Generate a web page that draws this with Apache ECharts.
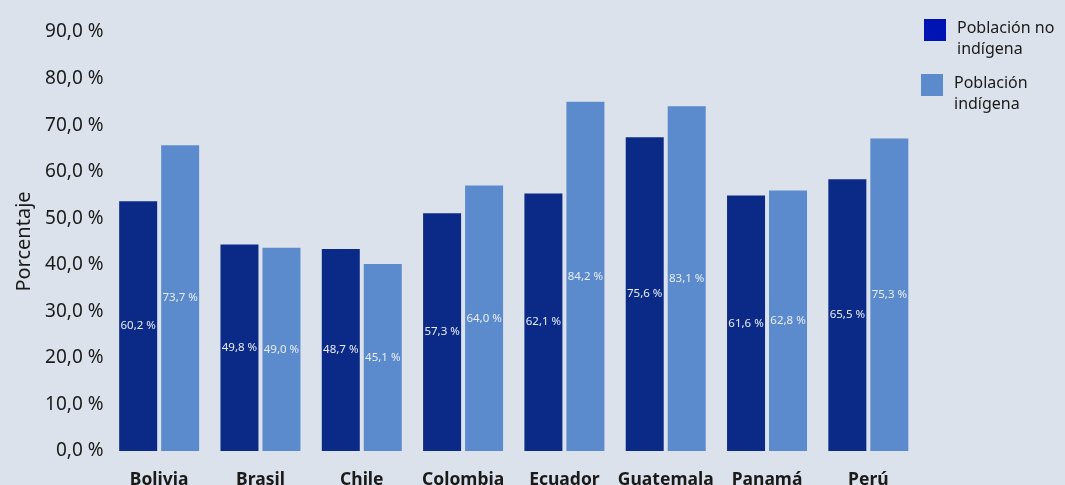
<!DOCTYPE html>
<html><head><meta charset="utf-8">
<script src="https://cdn.jsdelivr.net/npm/echarts@6/dist/echarts.min.js"></script>
<style>html,body{margin:0;padding:0;background:#dbe2eb;}#c{width:1065px;height:485px;}</style>
</head><body><div id="c"></div>
<script>
const categories = ['Bolivia','Brasil','Chile','Colombia','Ecuador','Guatemala','Panamá','Perú'];
const noIndigena = [60.2, 49.8, 48.7, 57.3, 62.1, 75.6, 61.6, 65.5];
const indigena = [73.7, 49.0, 45.1, 64.0, 84.2, 83.1, 62.8, 75.3];
const tickLabels = ['0,0 %','10,0 %','20,0 %','30,0 %','40,0 %','50,0 %','60,0 %','70,0 %','80,0 %','90,0 %'];
const seriesNames = ['Población no indígena','Población indígena'];

const axisMax = 101;
const step = axisMax / 9;
const fmt = v => v.toFixed(1).replace('.', ',') + ' %';
const font = 'Noto Sans';

const chart = echarts.init(document.getElementById('c'), null, {renderer:'canvas'});
const legendText = n => '{s| }\n' + n.replace(' indígena', '\nindígena').split('\n').map(l => '{t|' + l + '}').join('\n');
const sq = 'path://M0,0H22V22H0Z';
const legendBase = {orient:'vertical', padding: 0, itemWidth: 34, itemHeight: 22, formatter: legendText,
  textStyle: {fontFamily: font, fontSize: 16, color: '#1a1a1a', lineHeight: 21,
    rich: {s: {lineHeight: 17, fontSize: 16, fontFamily: font}, t: {lineHeight: 21, fontSize: 16, fontFamily: font, color: '#1a1a1a'}}}};
chart.setOption({
  backgroundColor: '#dbe2eb',
  textStyle: {fontFamily: font},
  grid: {left: 108.5, right: 146, top: 32, bottom: 34, containLabel: false, outerBoundsMode: 'none'},
  legend: [
    Object.assign({}, legendBase, {left: 924, top: 0.5,
     data: [{name: seriesNames[0], icon: sq, itemStyle: {color: '#0014b4'}}]}),
    Object.assign({}, legendBase, {left: 921, top: 55.5,
     data: [{name: seriesNames[1], icon: sq, itemStyle: {color: '#5b8bcc'}}]})
  ],
  xAxis: {
    type: 'category', data: categories,
    axisLine: {show: false}, axisTick: {show: false},
    axisLabel: {interval: 0, fontFamily: font, fontSize: 17.5, fontWeight: 'bold', color: '#1a1a1a', margin: 20}
  },
  yAxis: {
    type: 'value', min: 0, max: axisMax, interval: step,
    name: 'Porcentaje', nameLocation: 'middle', nameGap: 73.5,
    nameTextStyle: {fontFamily: font, fontSize: 20, color: '#1a1a1a'},
    splitLine: {show: false}, axisLine: {show: false}, axisTick: {show: false},
    axisLabel: {fontFamily: font, fontSize: 19, color: '#1a1a1a', margin: 5, padding: [0,0,12,0],
      formatter: v => tickLabels[Math.round(v / step)]}
  },
  series: [
    {name: seriesNames[0], type: 'bar', data: noIndigena, barWidth: 38, barGap: '10.5%',
     itemStyle: {color: '#0b2a88'},
     label: {show: true, position: 'inside', formatter: p => fmt(p.value), color: '#e8edf5', fontSize: 11.5, fontFamily: font}},
    {name: seriesNames[1], type: 'bar', data: indigena, barWidth: 38,
     itemStyle: {color: '#5b8bcc'},
     label: {show: true, position: 'inside', formatter: p => fmt(p.value), color: '#e8edf5', fontSize: 11.5, fontFamily: font}}
  ]
});
</script></body></html>
